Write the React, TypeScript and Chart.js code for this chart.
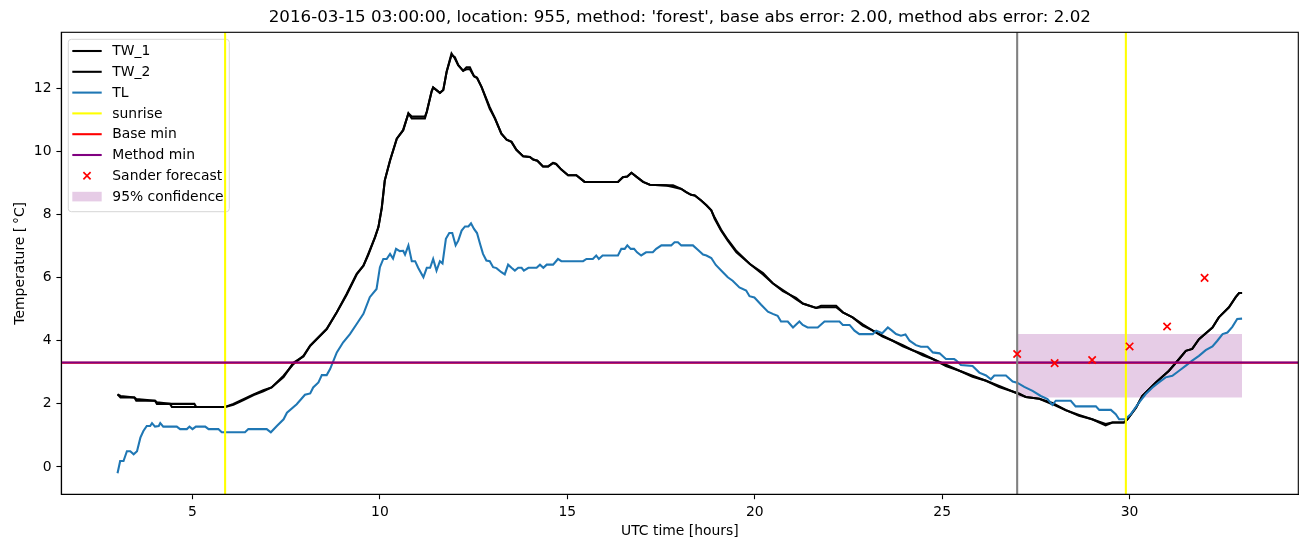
import { useEffect, useRef } from "react";
import { Chart, registerables } from "chart.js";

Chart.register(...registerables);

const TITLE =
  "2016-03-15 03:00:00, location: 955, method: 'forest', base abs error: 2.00, method abs error: 2.02";
const X_LABEL = "UTC time [hours]";
const Y_LABEL = "Temperature [\u2009°C]";

const xTickValues = [5, 10, 15, 20, 25, 30];
const yTickValues = [0, 2, 4, 6, 8, 10, 12];
const xRange = [1.5, 34.5];
const yRange = [-0.865, 13.77];

const twHours = [
  3.0, 3.08, 3.45, 3.5, 4.0, 4.05, 4.4, 4.45, 5.05, 5.1, 5.87, 6.09, 6.36, 6.63, 6.89, 7.11, 7.43, 7.69, 7.96, 8.14,
  8.58, 8.85, 9.11, 9.38, 9.56, 9.69, 9.87, 9.96, 10.05, 10.13, 10.27, 10.45, 10.62, 10.76, 10.85, 11.2, 11.25, 11.38,
  11.42, 11.6, 11.69, 11.78, 11.91, 12.0, 12.09, 12.22, 12.31, 12.4, 12.51, 12.59, 12.71, 12.93, 13.07, 13.24, 13.38,
  13.51, 13.64, 13.82, 14.0, 14.09, 14.2, 14.35, 14.49, 14.62, 14.7, 14.84, 15.02, 15.24, 15.46, 16.35, 16.48, 16.6,
  16.71, 16.84, 17.02, 17.2, 17.64, 17.82, 18.04, 18.17, 18.3, 18.4, 18.57, 18.71, 18.84, 18.93, 19.1, 19.28, 19.51,
  19.87, 20.22, 20.48, 20.75, 20.93, 21.1, 21.28, 21.46, 21.64, 21.77, 22.17, 22.35, 22.61, 22.88, 23.15, 23.41, 23.68,
  23.95, 24.21, 24.48, 24.75, 25.1, 25.46, 25.81, 26.17, 26.52, 26.88, 27.05, 27.23, 27.59, 27.94, 28.3, 28.65, 29.0,
  29.36, 29.54, 29.85, 29.94, 30.17, 30.34, 30.7, 31.05, 31.32, 31.5, 31.67, 31.85, 32.21, 32.38, 32.65, 32.83, 32.92,
  33.0,
];
const tw1Temps = [
  2.3, 2.2, 2.2, 2.1, 2.1, 2.0, 2.0, 1.9, 1.9, 1.9, 1.9, 2.0, 2.15, 2.3, 2.43, 2.52, 2.89, 3.26, 3.52, 3.84,
  4.37, 4.9, 5.48, 6.12, 6.38, 6.75, 7.28, 7.6, 8.23, 9.08, 9.71, 10.4, 10.67, 11.2, 11.04, 11.04, 11.25, 11.9,
  12.02, 11.85, 11.94, 12.52, 13.1, 12.94, 12.73, 12.55, 12.6, 12.6, 12.38, 12.33, 12.04, 11.35, 11.04, 10.56, 10.37,
  10.3, 10.05, 9.84, 9.82, 9.74, 9.7, 9.52, 9.52, 9.63, 9.6, 9.42, 9.24, 9.24, 9.03, 9.03, 9.18, 9.2,
  9.32, 9.2, 9.03, 8.94, 8.92, 8.87, 8.81, 8.71, 8.62, 8.6, 8.44, 8.29, 8.13, 7.86, 7.49, 7.17, 6.8,
  6.43, 6.1, 5.82, 5.57, 5.46, 5.32, 5.18, 5.11, 5.04, 5.11, 5.11, 4.9, 4.74, 4.48, 4.32, 4.13, 4.0,
  3.86, 3.7, 3.58, 3.42, 3.24, 3.05, 2.89, 2.73, 2.57, 2.39, 2.33, 2.22, 2.16, 1.99, 1.8, 1.65, 1.51,
  1.36, 1.41, 1.41, 1.51, 1.88, 2.25, 2.68, 3.05, 3.42, 3.68, 3.74, 4.05, 4.42, 4.74, 5.06, 5.38, 5.51,
  5.51,
];
const tw2Temps = [
  2.3, 2.25, 2.2, 2.15, 2.1, 2.05, 2.0, 2.0, 2.0, 1.9, 1.9, 1.97, 2.12, 2.28, 2.4, 2.52, 2.85, 3.3, 3.5, 3.84,
  4.37, 4.9, 5.45, 6.1, 6.38, 6.72, 7.28, 7.6, 8.2, 9.08, 9.71, 10.4, 10.67, 11.2, 11.1, 11.1, 11.25, 11.9,
  12.02, 11.85, 11.94, 12.52, 13.05, 12.98, 12.73, 12.55, 12.66, 12.66, 12.38, 12.33, 12.04, 11.4, 11.04, 10.56, 10.37,
  10.3, 10.05, 9.84, 9.82, 9.74, 9.7, 9.52, 9.52, 9.63, 9.6, 9.42, 9.24, 9.24, 9.03, 9.03, 9.18, 9.2,
  9.32, 9.2, 9.03, 8.94, 8.92, 8.92, 8.81, 8.71, 8.62, 8.6, 8.44, 8.29, 8.13, 7.9, 7.52, 7.2, 6.84,
  6.43, 6.14, 5.82, 5.6, 5.46, 5.36, 5.18, 5.11, 5.04, 5.06, 5.06, 4.9, 4.74, 4.52, 4.32, 4.16, 4.0,
  3.82, 3.7, 3.54, 3.42, 3.2, 3.05, 2.86, 2.73, 2.53, 2.39, 2.3, 2.22, 2.16, 2.03, 1.8, 1.62, 1.51,
  1.32, 1.41, 1.41, 1.51, 1.88, 2.25, 2.68, 3.05, 3.42, 3.68, 3.74, 4.05, 4.42, 4.74, 5.06, 5.38, 5.51,
  5.51,
];

const tlHours = [
  3.0, 3.07, 3.16, 3.25, 3.34, 3.43, 3.52, 3.61, 3.69, 3.78, 3.87, 3.92, 4.0, 4.1, 4.14, 4.22, 4.58, 4.67, 4.85, 4.92,
  5.0, 5.09, 5.34, 5.43, 5.69, 5.78, 6.4, 6.49, 6.98, 7.09, 7.25, 7.43, 7.52, 7.78, 8.0, 8.14, 8.22, 8.36, 8.45, 8.58,
  8.67, 8.85, 9.02, 9.2, 9.38, 9.56, 9.73, 9.91, 10.0, 10.09, 10.18, 10.27, 10.35, 10.43, 10.53, 10.62, 10.67, 10.76,
  10.85, 10.94, 11.02, 11.16, 11.25, 11.34, 11.42, 11.51, 11.6, 11.67, 11.76, 11.85, 11.93, 12.02, 12.09, 12.18, 12.27,
  12.36, 12.43, 12.51, 12.59, 12.67, 12.75, 12.84, 12.93, 13.02, 13.11, 13.24, 13.33, 13.42, 13.51, 13.6, 13.69, 13.78,
  13.84, 13.96, 14.18, 14.27, 14.36, 14.45, 14.62, 14.75, 14.84, 15.42, 15.51, 15.68, 15.77, 15.84, 15.94, 16.35, 16.44,
  16.53, 16.6, 16.69, 16.78, 16.86, 16.97, 17.1, 17.28, 17.37, 17.51, 17.77, 17.86, 17.95, 18.04, 18.35, 18.48, 18.62,
  18.71, 18.84, 18.96, 19.15, 19.28, 19.41, 19.59, 19.77, 19.86, 19.99, 20.17, 20.35, 20.48, 20.61, 20.7, 20.88, 21.02,
  21.19, 21.28, 21.41, 21.68, 21.86, 22.26, 22.35, 22.53, 22.66, 22.79, 23.15, 23.24, 23.4, 23.55, 23.66, 23.77, 23.9,
  24.02, 24.13, 24.3, 24.43, 24.61, 24.75, 24.93, 25.1, 25.32, 25.37, 25.5, 25.81, 25.99, 26.17, 26.3, 26.39, 26.7,
  26.88, 27.0, 27.19, 27.41, 27.63, 27.81, 27.94, 28.03, 28.43, 28.56, 29.1, 29.19, 29.5, 29.63, 29.72, 29.88, 30.03,
  30.25, 30.43, 30.61, 30.78, 30.96, 31.14, 31.32, 31.5, 31.67, 31.85, 32.03, 32.21, 32.34, 32.48, 32.61, 32.74, 32.87,
  33.0,
];
const tlTemps = [
  -0.2, 0.19, 0.19, 0.5, 0.5, 0.4, 0.5, 0.93, 1.14, 1.3, 1.3, 1.39, 1.28, 1.3, 1.39, 1.28, 1.28, 1.2, 1.2, 1.28,
  1.2, 1.28, 1.28, 1.2, 1.2, 1.1, 1.1, 1.2, 1.2, 1.1, 1.3, 1.51, 1.72, 1.99, 2.29, 2.33, 2.52, 2.68, 2.91, 2.91,
  3.1, 3.63, 3.95, 4.21, 4.53, 4.85, 5.38, 5.64, 6.33, 6.59, 6.59, 6.75, 6.6, 6.91, 6.84, 6.85, 6.73, 7.02,
  6.52, 6.52, 6.31, 6.01, 6.31, 6.31, 6.59, 6.22, 6.52, 6.45, 7.23, 7.41, 7.41, 7.02, 7.17, 7.49, 7.62,
  7.62, 7.72, 7.54, 7.41, 7.07, 6.75, 6.54, 6.52, 6.33, 6.3, 6.17, 6.1, 6.41, 6.31, 6.22, 6.31, 6.31,
  6.22, 6.31, 6.31, 6.41, 6.31, 6.41, 6.41, 6.59, 6.52, 6.52, 6.59, 6.59, 6.7, 6.59, 6.7, 6.7, 6.91,
  6.91, 7.02, 6.91, 6.91, 6.8, 6.7, 6.8, 6.8, 6.91, 7.02, 7.02, 7.12, 7.12, 7.02, 7.02, 6.88, 6.73,
  6.7, 6.62, 6.4, 6.17, 6.01, 5.9, 5.69, 5.59, 5.41, 5.37, 5.14, 4.92, 4.85, 4.79, 4.61, 4.61, 4.42,
  4.61, 4.5, 4.42, 4.42, 4.61, 4.61, 4.5, 4.5, 4.32, 4.21, 4.21, 4.32, 4.24, 4.42, 4.32, 4.21, 4.16,
  4.2, 4.0, 3.86, 3.81, 3.81, 3.63, 3.6, 3.42, 3.42, 3.38, 3.23, 3.2, 2.99, 2.9, 2.78, 2.9, 2.9,
  2.71, 2.67, 2.54, 2.41, 2.25, 2.15, 1.97, 2.1, 2.1, 1.92, 1.92, 1.81, 1.81, 1.67, 1.51, 1.51, 1.67,
  2.04, 2.31, 2.52, 2.68, 2.84, 2.89, 3.05, 3.21, 3.37, 3.52, 3.7, 3.82, 4.0, 4.21, 4.26, 4.44, 4.69,
  4.7,
];

const sunriseHours = [5.87, 29.9];
const forecastHour = 27.0;
const baseMinTemp = 3.3;
const methodMinTemp = 3.31;
const sanderHours = [27, 28, 29, 30, 31, 32];
const sanderTemps = [3.58, 3.29, 3.39, 3.82, 4.45, 5.99];
const confHours = [27, 33];
const confLower = 2.2;
const confUpper = 4.21;

const legendLabels = ["TW_1", "TW_2", "TL", "sunrise", "Base min", "Method min", "Sander forecast", "95% confidence"];
const legendColors = ["#000000", "#000000", "#1f77b4", "#ffff00", "#ff0000", "#800080", "#ff0000", "rgba(128,0,128,0.2)"];

const FONT = '"DejaVu Sans", "Liberation Sans", sans-serif';
const LW = 2.08;

const pts = (xs: number[], ys: number[]) => xs.map((x, i) => ({ x, y: ys[i] }));

function lineDs(label: string, data: any[], color: string, order: number, extra: any = {}) {
  return {
    label,
    data,
    borderColor: color,
    backgroundColor: color,
    borderWidth: LW,
    pointRadius: 0,
    pointHoverRadius: 0,
    fill: false,
    tension: 0,
    order,
    ...extra,
  };
}

const decorPlugin = {
  id: "decor",
  beforeDatasetsDraw(chart: any) {
    const ctx = chart.ctx;
    const bx = 68.3, by = 39.3, bw = 161, bh = 172.4, r = 3;
    ctx.save();
    ctx.beginPath();
    ctx.moveTo(bx + r, by);
    ctx.lineTo(bx + bw - r, by);
    ctx.quadraticCurveTo(bx + bw, by, bx + bw, by + r);
    ctx.lineTo(bx + bw, by + bh - r);
    ctx.quadraticCurveTo(bx + bw, by + bh, bx + bw - r, by + bh);
    ctx.lineTo(bx + r, by + bh);
    ctx.quadraticCurveTo(bx, by + bh, bx, by + bh - r);
    ctx.lineTo(bx, by + r);
    ctx.quadraticCurveTo(bx, by, bx + r, by);
    ctx.closePath();
    ctx.fillStyle = "rgba(255,255,255,0.8)";
    ctx.fill();
    ctx.strokeStyle = "#d6d6d6";
    ctx.lineWidth = 1;
    ctx.stroke();

    const x0 = 72.3, x1 = 101.7, tx = 112.3;
    ctx.font = `13.9px ${FONT}`;
    ctx.textBaseline = "middle";
    ctx.textAlign = "left";
    legendLabels.forEach((lab, i) => {
      const y = 51 + i * 20.8;
      const col = legendColors[i];
      if (i < 6) {
        ctx.strokeStyle = col;
        ctx.lineWidth = LW;
        ctx.beginPath();
        ctx.moveTo(x0, y);
        ctx.lineTo(x1, y);
        ctx.stroke();
      } else if (i === 6) {
        const cx = (x0 + x1) / 2, s = 3.6;
        ctx.strokeStyle = col;
        ctx.lineWidth = 1.7;
        ctx.beginPath();
        ctx.moveTo(cx - s, y - s);
        ctx.lineTo(cx + s, y + s);
        ctx.moveTo(cx - s, y + s);
        ctx.lineTo(cx + s, y - s);
        ctx.stroke();
      } else {
        ctx.fillStyle = col;
        ctx.fillRect(x0, y - 4.8, x1 - x0, 9.6);
      }
      ctx.fillStyle = "#000";
      ctx.fillText(lab, tx, y + 0.5);
    });
    ctx.restore();
  },
  afterDraw(chart: any) {
    const ctx = chart.ctx;
    const a = chart.chartArea;
    ctx.save();
    ctx.strokeStyle = "#000";
    ctx.lineWidth = 1.1;
    ctx.strokeRect(a.left, a.top, a.right - a.left, a.bottom - a.top);

    ctx.fillStyle = "#000";
    ctx.textAlign = "center";
    ctx.textBaseline = "alphabetic";
    ctx.font = `16.7px ${FONT}`;
    ctx.fillText(TITLE, (a.left + a.right) / 2, a.top - 10);

    ctx.font = `13.9px ${FONT}`;
    ctx.fillText(X_LABEL, (a.left + a.right) / 2, 535);

    ctx.translate(23.5, (a.top + a.bottom) / 2);
    ctx.rotate(-Math.PI / 2);
    ctx.fillText(Y_LABEL, 0, 0);
    ctx.restore();
  },
};

export default function App() {
  const canvasRef = useRef<HTMLCanvasElement | null>(null);

  useEffect(() => {
    const canvas = canvasRef.current;
    if (!canvas) return;
    document.body.style.margin = "0";

    const vline = (h: number) => [
      { x: h, y: yRange[0] },
      { x: h, y: yRange[1] },
    ];
    const hline = (v: number) => [
      { x: xRange[0], y: v },
      { x: xRange[1], y: v },
    ];

    const datasets: any[] = [
      lineDs("95% confidence", confHours.map((h) => ({ x: h, y: confUpper })), "rgba(0,0,0,0)", 30, {
        fill: "+1",
        backgroundColor: "rgba(128,0,128,0.2)",
        borderWidth: 0,
      }),
      lineDs("conf lower", confHours.map((h) => ({ x: h, y: confLower })), "rgba(0,0,0,0)", 29, { borderWidth: 0 }),
      lineDs("TW_1", pts(twHours, tw1Temps), "#000000", 9),
      lineDs("TW_2", pts(twHours, tw2Temps), "#000000", 8),
      lineDs("TL", pts(tlHours, tlTemps), "#1f77b4", 7),
      lineDs("sunrise", vline(sunriseHours[0]), "#ffff00", 6),
      lineDs("sunrise 2", vline(sunriseHours[1]), "#ffff00", 6),
      lineDs("Base min", hline(baseMinTemp), "#ff0000", 5),
      lineDs("Method min", hline(methodMinTemp), "#800080", 4),
      lineDs("forecast time", vline(forecastHour), "#808080", 3),
      {
        label: "Sander forecast",
        data: pts(sanderHours, sanderTemps),
        showLine: false,
        pointStyle: "crossRot",
        pointRadius: 5.2,
        pointHoverRadius: 5.2,
        pointBorderWidth: 1.7,
        borderColor: "#ff0000",
        backgroundColor: "#ff0000",
        order: 1,
      },
    ];

    const tickFont = { family: FONT, size: 13.9 };

    const chart = new Chart(canvas, {
      type: "line",
      data: { datasets },
      plugins: [decorPlugin],
      options: {
        animation: false,
        responsive: false,
        devicePixelRatio: 1,
        events: [],
        layout: { padding: { left: 0, top: 32.3, right: 11.7, bottom: 0 } },
        plugins: {
          legend: { display: false },
          tooltip: { enabled: false },
          title: { display: false },
        },
        scales: {
          x: {
            type: "linear",
            min: xRange[0],
            max: xRange[1],
            afterBuildTicks: (s: any) => {
              s.ticks = xTickValues.map((v) => ({ value: v }));
            },
            afterFit: (s: any) => {
              s.height = 52.7;
            },
            grid: {
              display: true,
              drawOnChartArea: false,
              drawTicks: true,
              tickLength: 4.9,
              tickColor: "#000",
              tickWidth: 1.1,
            },
            border: { display: true, color: "#000", width: 1.1 },
            ticks: { font: tickFont, color: "#000", padding: 4.9, maxRotation: 0, autoSkip: false },
          },
          y: {
            type: "linear",
            min: yRange[0],
            max: yRange[1],
            afterBuildTicks: (s: any) => {
              s.ticks = yTickValues.map((v) => ({ value: v }));
            },
            afterFit: (s: any) => {
              s.width = 61.3;
            },
            grid: {
              display: true,
              drawOnChartArea: false,
              drawTicks: true,
              tickLength: 4.9,
              tickColor: "#000",
              tickWidth: 1.1,
            },
            border: { display: true, color: "#000", width: 1.1 },
            ticks: { font: tickFont, color: "#000", padding: 4.9, autoSkip: false },
          },
        },
      } as any,
    });

    return () => chart.destroy();
  }, []);

  return (
    <div style={{ position: "absolute", left: 0, top: 0, width: 1310, height: 547, background: "#fff" }}>
      <canvas ref={canvasRef} width={1310} height={547} style={{ width: 1310, height: 547, display: "block" }} />
    </div>
  );
}
